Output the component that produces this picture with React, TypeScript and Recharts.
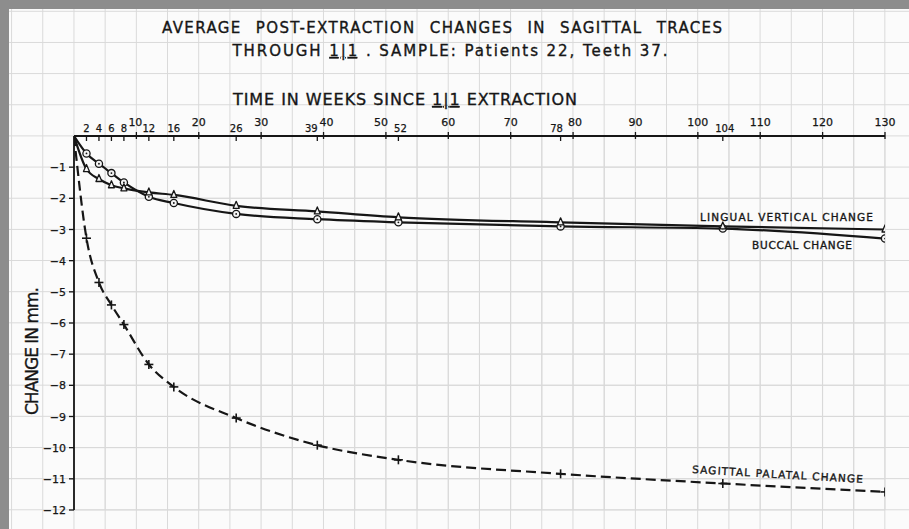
import React from 'react';
import { LineChart, Line, XAxis, YAxis, CartesianGrid } from 'recharts';

// ---- data ----
const weeks = [0, 2, 4, 6, 8, 12, 16, 26, 39, 52, 78, 104, 130];
const buccalChange = [0, -0.56, -0.89, -1.19, -1.49, -1.95, -2.15, -2.5, -2.67, -2.77, -2.9, -2.97, -3.29];
const lingualVerticalChange = [0, -1.06, -1.38, -1.58, -1.68, -1.81, -1.89, -2.24, -2.42, -2.61, -2.77, -2.9, -3.0];
const sagittalPalatalChange = [0, -3.28, -4.7, -5.42, -6.05, -7.33, -8.05, -9.05, -9.92, -10.39, -10.84, -11.15, -11.42];

const xTickValues = [2, 4, 6, 8, 10, 12, 16, 20, 26, 30, 39, 40, 50, 52, 60, 70, 78, 80, 90, 100, 104, 110, 120, 130];
const measuredWeekTicks = [2, 4, 6, 8, 12, 16, 26, 39, 52, 78, 104];
const yTickValues = [0, -1, -2, -3, -4, -5, -6, -7, -8, -9, -10, -11, -12];
const gridWeeks = [0, 5, 10, 15, 20, 25, 30, 35, 40, 45, 50, 55, 60, 65, 70, 75, 80, 85, 90, 95, 100, 105, 110, 115, 120, 125, 130];
const gridValues = [0, -1, -2, -3, -4, -5, -6, -7, -8, -9, -10, -11, -12];

const data = weeks.map((w, i) => ({
  week: w,
  buccal: buccalChange[i],
  lingual: lingualVerticalChange[i],
  palatal: sagittalPalatalChange[i],
}));

// ---- styles ----
const FONT = '"DejaVu Sans", "Liberation Sans", sans-serif';
const INK = '#161616';
const GRID = '#d9d9d9';
const labelShift: Record<number, number> = { 39: -6, 40: 3, 50: -5, 52: 2, 78: -4, 80: 2, 104: 2, 10: -1 };

const XTick = (props: any) => {
  const { x, y, payload } = props;
  const v = payload.value as number;
  const low = measuredWeekTicks.includes(v);
  const dx = labelShift[v] ?? 0;
  return (
    <g>
      <line x1={x} x2={x} y1={low ? y - 1 : y - 4} y2={low ? y + 5 : y + 3} stroke={INK} strokeWidth={1.3} />
      <text
        x={x + dx}
        y={low ? y - 4 : y - 10}
        textAnchor="middle"
        fontFamily={FONT}
        fontSize={low ? 10 : 11}
        fill={INK}
        stroke={INK}
        strokeWidth={0.25}
      >
        {v}
      </text>
    </g>
  );
};

const YTick = (props: any) => {
  const { x, y, payload } = props;
  const v = payload.value as number;
  if (v === 0) return <g />;
  return (
    <g>
      <line x1={x - 5} x2={x} y1={y} y2={y} stroke={INK} strokeWidth={1.3} />
      <text x={x - 8} y={y + 4} textAnchor="end" fontFamily={FONT} fontSize={11} fill={INK} stroke={INK} strokeWidth={0.25}>
        {'\u2212' + Math.abs(v)}
      </text>
    </g>
  );
};

const CircleDot = (props: any) => {
  const { cx, cy, payload, index } = props;
  if (payload.week === 0 || cx == null) return <g key={`c${index}`} />;
  return (
    <g key={`c${index}`}>
      <circle cx={cx} cy={cy} r={3.6} fill="#f4f4f4" stroke={INK} strokeWidth={1.3} />
      <circle cx={cx} cy={cy} r={0.9} fill={INK} />
    </g>
  );
};

const TriangleDot = (props: any) => {
  const { cx, cy, payload, index } = props;
  if (payload.week === 0 || cx == null) return <g key={`t${index}`} />;
  return (
    <path
      key={`t${index}`}
      d={`M ${cx} ${cy - 4.5} L ${cx + 3} ${cy + 2.5} L ${cx - 3} ${cy + 2.5} Z`}
      fill="#f4f4f4"
      stroke={INK}
      strokeWidth={1.3}
      strokeLinejoin="round"
    />
  );
};

const CrossDot = (props: any) => {
  const { cx, cy, payload, index } = props;
  if (payload.week === 0 || cx == null) return <g key={`x${index}`} />;
  return (
    <g key={`x${index}`}>
      <line x1={cx - 4.5} x2={cx + 4.5} y1={cy} y2={cy} stroke={INK} strokeWidth={1.6} />
      <line x1={cx} x2={cx} y1={cy - 4.5} y2={cy + 4.5} stroke={INK} strokeWidth={1.6} />
    </g>
  );
};

export default function App() {
  const W = 909;
  const H = 529;
  return (
    <div
      style={{
        position: 'absolute',
        left: 0,
        top: 0,
        width: W,
        height: H,
        overflow: 'hidden',
        backgroundColor: '#fbfbfb',
        backgroundImage: `linear-gradient(to right, ${GRID} 1px, transparent 1px), linear-gradient(to bottom, ${GRID} 1px, transparent 1px)`,
        backgroundSize: '31.19px 31.17px',
        backgroundPosition: '11.1px 10.8px',
      }}
    >
      <div style={{ position: 'absolute', left: 0, top: 0 }}>
        <LineChart width={W} height={H} data={data} margin={{ top: 106, right: 24, bottom: 19, left: 34 }}>
          <CartesianGrid stroke={GRID} strokeWidth={1} verticalValues={gridWeeks} horizontalValues={gridValues} />
          <XAxis
            dataKey="week"
            type="number"
            orientation="top"
            domain={[0, 130]}
            ticks={xTickValues}
            interval={0}
            height={30}
            tickSize={0}
            tickMargin={0}
            tickLine={false}
            tick={<XTick />}
            axisLine={{ stroke: INK, strokeWidth: 1.8 }}
            allowDataOverflow
          />
          <YAxis
            type="number"
            domain={[-12, 0]}
            ticks={yTickValues}
            interval={0}
            width={40}
            tickSize={0}
            tickMargin={0}
            tickLine={false}
            tick={<YTick />}
            axisLine={{ stroke: INK, strokeWidth: 1.8 }}
            allowDataOverflow
          />
          <Line
            type="monotone"
            dataKey="palatal"
            stroke={INK}
            strokeWidth={2.2}
            strokeDasharray="10 5"
            dot={(p: any) => <CrossDot {...p} key={`x${p.index}`} />}
            isAnimationActive={false}
          />
          <Line
            type="monotone"
            dataKey="buccal"
            stroke={INK}
            strokeWidth={2.2}
            dot={(p: any) => <CircleDot {...p} key={`c${p.index}`} />}
            isAnimationActive={false}
          />
          <Line
            type="monotone"
            dataKey="lingual"
            stroke={INK}
            strokeWidth={2.2}
            dot={(p: any) => <TriangleDot {...p} key={`t${p.index}`} />}
            isAnimationActive={false}
          />
        </LineChart>
      </div>
      <svg
        width={W}
        height={H}
        style={{ position: 'absolute', left: 0, top: 0, pointerEvents: 'none' }}
        fontFamily={FONT}
        fill={INK}
        stroke={INK}
        strokeWidth={0.35}
      >
        <text x={442} y={33} textAnchor="middle" fontSize={15} textLength={560} lengthAdjust="spacing" style={{ wordSpacing: 8 }}>
          AVERAGE POST-EXTRACTION CHANGES IN SAGITTAL TRACES
        </text>
        <text x={450} y={56} textAnchor="middle" fontSize={15} textLength={435} lengthAdjust="spacing">
          THROUGH{'  '}
          <tspan style={{ textDecoration: 'underline' }}>1|1</tspan>
          {' .   SAMPLE: Patients 22, Teeth 37.'}
        </text>
        <text x={405} y={105} textAnchor="middle" fontSize={16} textLength={344} lengthAdjust="spacing">
          TIME IN WEEKS SINCE{' '}
          <tspan style={{ textDecoration: 'underline' }}>1|1</tspan>
          {' EXTRACTION'}
        </text>
        <text
          x={32}
          y={351}
          textAnchor="middle"
          fontSize={17}
          textLength={128}
          lengthAdjust="spacing"
          transform="rotate(-90 32 351)"
          dy={6}
        >
          CHANGE IN mm.
        </text>
        <text x={700} y={221} fontSize={10.5} textLength={173} lengthAdjust="spacing">
          LINGUAL VERTICAL CHANGE
        </text>
        <text x={752} y={249} fontSize={10.5} textLength={100} lengthAdjust="spacing">
          BUCCAL CHANGE
        </text>
        <text x={692} y={478} fontSize={10.5} textLength={171} lengthAdjust="spacing" transform="rotate(3.3 777 475)">
          SAGITTAL PALATAL CHANGE
        </text>
      </svg>
      <div style={{ position: 'absolute', left: 0, top: 0, width: W, height: 9, background: '#8d8d8d' }} />
      <div style={{ position: 'absolute', left: 0, top: 0, width: 9, height: H, background: '#8d8d8d' }} />
    </div>
  );
}
